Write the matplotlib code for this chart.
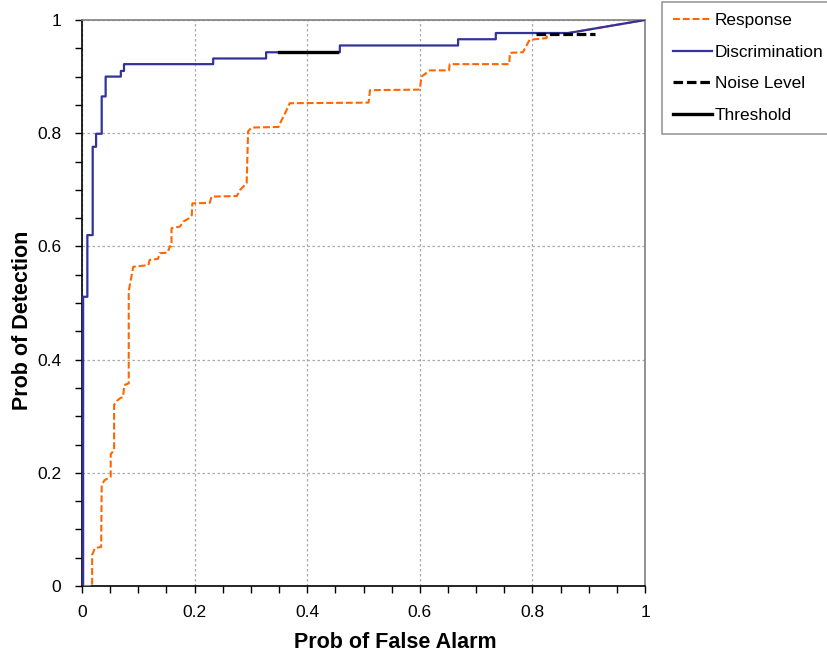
import matplotlib
matplotlib.use("Agg")
import matplotlib.pyplot as plt
from matplotlib.ticker import MultipleLocator

plt.rcParams['font.family'] = ['Liberation Sans', 'DejaVu Sans']

# Discrimination curve
disc_x = [0.002, 0.002, 0.0095, 0.0095, 0.019, 0.019, 0.025, 0.025, 0.035, 0.035,
          0.042, 0.042, 0.069, 0.069, 0.0746, 0.0746, 0.233, 0.233, 0.327, 0.327,
          0.458, 0.458, 0.668, 0.668, 0.735, 0.735, 0.864, 1.0]
disc_y = [0.0, 0.511, 0.511, 0.620, 0.620, 0.776, 0.776, 0.799, 0.799, 0.865,
          0.865, 0.900, 0.900, 0.910, 0.910, 0.922, 0.922, 0.932, 0.932, 0.943,
          0.943, 0.955, 0.955, 0.966, 0.966, 0.977, 0.977, 1.0]

# Response curve
resp_x = [0.003, 0.018, 0.018, 0.023, 0.034, 0.035, 0.040, 0.051, 0.051, 0.057,
          0.057, 0.062, 0.068, 0.073, 0.075, 0.083, 0.083, 0.091, 0.118, 0.120,
          0.135, 0.138, 0.152, 0.156, 0.159, 0.159, 0.174, 0.180, 0.189, 0.195,
          0.196, 0.227, 0.230, 0.275, 0.281, 0.2925, 0.295, 0.301, 0.349, 0.353,
          0.3606, 0.369, 0.509, 0.5115, 0.600, 0.603, 0.618, 0.652, 0.653, 0.759,
          0.760, 0.783, 0.795, 0.825, 0.827, 0.864, 1.0]
resp_y = [0.0, 0.0, 0.055, 0.067, 0.069, 0.178, 0.187, 0.193, 0.233, 0.240,
          0.320, 0.327, 0.332, 0.334, 0.355, 0.358, 0.521, 0.564, 0.567, 0.576,
          0.578, 0.588, 0.589, 0.600, 0.600, 0.632, 0.635, 0.644, 0.649, 0.655,
          0.676, 0.677, 0.688, 0.689, 0.700, 0.712, 0.803, 0.810, 0.811, 0.820,
          0.835, 0.853, 0.854, 0.876, 0.877, 0.900, 0.911, 0.911, 0.922, 0.922,
          0.942, 0.943, 0.965, 0.968, 0.977, 0.977, 1.0]

# Noise level and threshold segments
noise_x = [0.807, 0.911]
noise_y = [0.975, 0.975]
thr_x = [0.350, 0.4535]
thr_y = [0.943, 0.943]

ticks = [0, 0.2, 0.4, 0.6, 0.8, 1]
tick_labels = ['0', '0.2', '0.4', '0.6', '0.8', '1']

blue = '#333399'
orange = '#FF6600'

fig = plt.figure(figsize=(8.27, 6.54), dpi=100)
ax = fig.add_axes([82/827, 1-586/654, (645-82)/827, (586-20)/654])

ax.plot(resp_x, resp_y, color=orange, lw=1.5, linestyle=(0, (3.3, 1.4)), label='Response', zorder=3)
ax.plot(disc_x, disc_y, color=blue, lw=1.6, label='Discrimination', zorder=4)
ax.plot(noise_x, noise_y, color='black', lw=2.3, linestyle=(0, (3, 1.2)), label='Noise Level', zorder=5)
ax.plot(thr_x, thr_y, color='black', lw=2.4, label='Threshold', zorder=5)

ax.set_xlim(0, 1)
ax.set_ylim(0, 1)
ax.set_xticks(ticks)
ax.set_xticklabels(tick_labels)
ax.set_yticks(ticks)
ax.set_yticklabels(tick_labels)
ax.xaxis.set_minor_locator(MultipleLocator(0.05))
ax.yaxis.set_minor_locator(MultipleLocator(0.05))
ax.tick_params(which='both', direction='out', length=5, width=1, color='black')
ax.tick_params(axis='x', which='major', labelsize=12.5, pad=9)
ax.tick_params(axis='y', which='major', labelsize=12.5, pad=10)

ax.grid(True, which='major', color='#aaaaaa', linestyle=(0, (2, 2)), lw=0.9)
ax.set_axisbelow(True)

for s in ['top', 'right']:
    ax.spines[s].set_color('#808080')
    ax.spines[s].set_linewidth(1.2)
for s in ['left', 'bottom']:
    ax.spines[s].set_color('black')
    ax.spines[s].set_linewidth(1.2)

fig.text(395/827, 1-642/654, 'Prob of False Alarm', fontsize=15.5, fontweight='bold',
         ha='center', va='center')
fig.text(23/827, 1-320/654, 'Prob of Detection', fontsize=15.5, fontweight='bold',
         ha='center', va='center', rotation=90)

leg = fig.legend(loc='upper left', bbox_to_anchor=(662/827, 1-2/654), borderaxespad=0,
                 fontsize=12.4, frameon=True, fancybox=False, handlelength=2.27,
                 handletextpad=0.17, labelspacing=0.96, borderpad=0.64)
leg.get_frame().set_edgecolor('#808080')
leg.get_frame().set_linewidth(1.2)

fig.savefig('out.png', dpi=100)
